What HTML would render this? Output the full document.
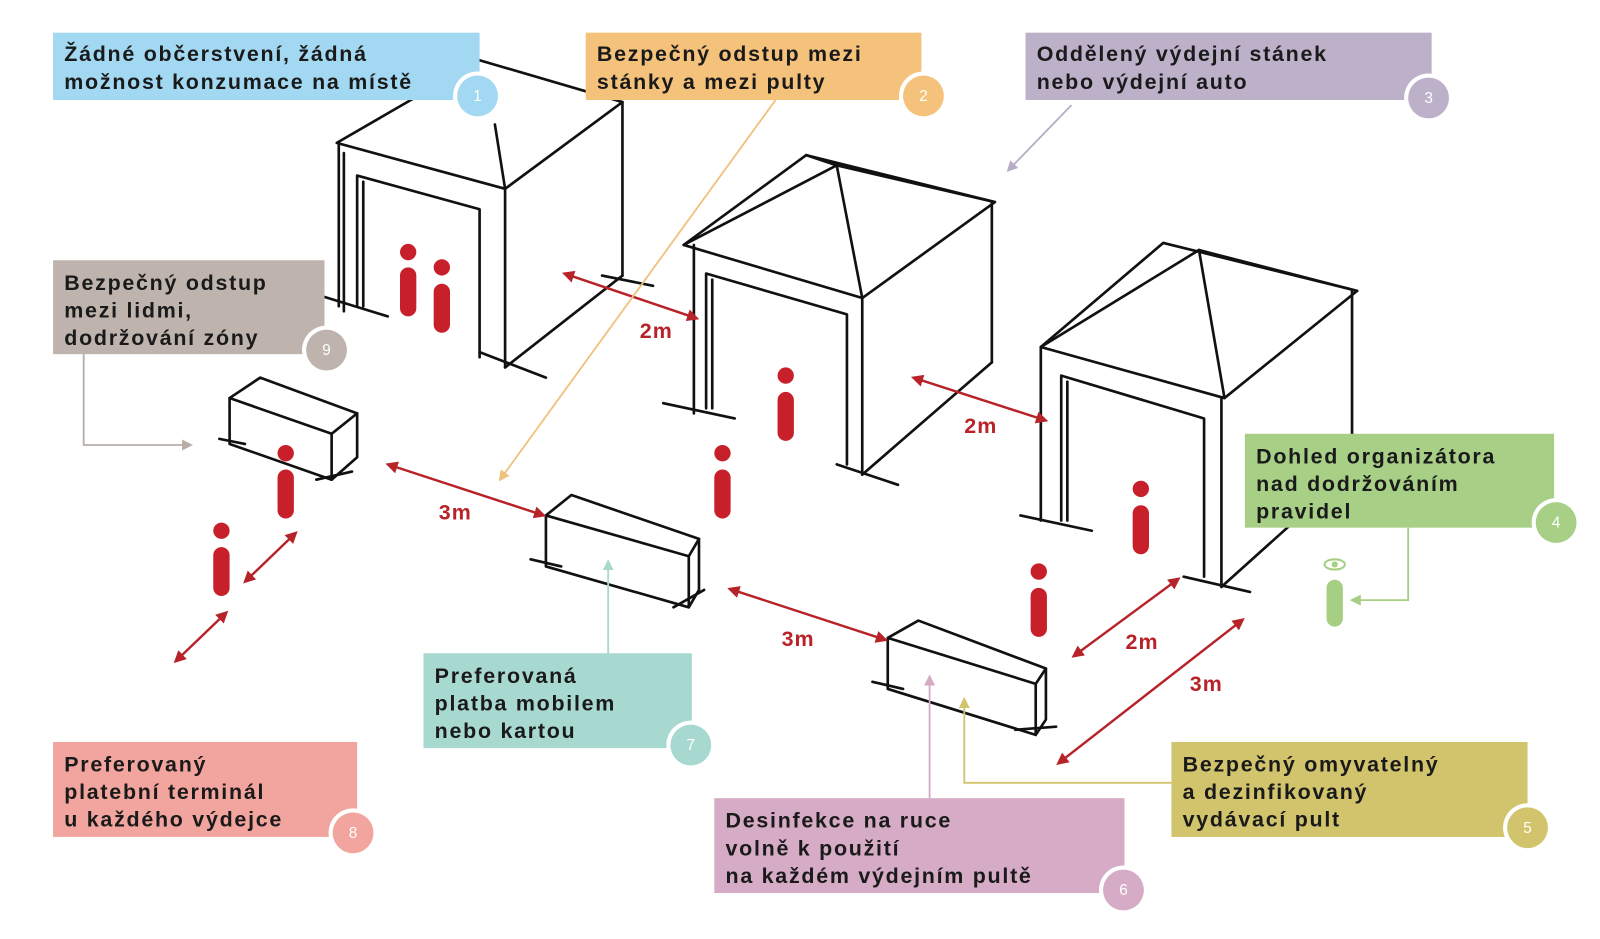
<!DOCTYPE html>
<html><head><meta charset="utf-8"><style>
html,body{margin:0;padding:0;background:#fff;}
svg{display:block}
text{font-family:"Liberation Sans",sans-serif;}
.t{font-size:21px;font-weight:bold;fill:#1a1a1a;letter-spacing:1.7px}
.n{font-size:15px;fill:#fff;text-anchor:middle;}
.sk{stroke:#111;stroke-width:2.6;fill:none;stroke-linecap:round;stroke-linejoin:round}
.ar{stroke:#b8232a;stroke-width:2.4;fill:none}
.lb{font-size:21px;fill:#b8232a;font-weight:bold;letter-spacing:1px}
</style></head><body>
<svg width="1600" height="939" viewBox="0 0 1568 920" preserveAspectRatio="none" xmlns="http://www.w3.org/2000/svg">
<defs>
<marker id="r" viewBox="0 0 10 10" refX="8" refY="5" markerWidth="5" markerHeight="5" orient="auto-start-reverse"><path d="M0,0L10,5L0,10z" fill="#b8232a"/></marker>
<marker id="g" viewBox="0 0 10 10" refX="8" refY="5" markerWidth="6" markerHeight="6" orient="auto"><path d="M0,0L10,5L0,10z" fill="context-stroke"/></marker>
</defs>

<!-- Tent 1 -->
<g class="sk">
<polyline points="470,59 610,100 495,185 330,140 470,59"/>
<line x1="485" y1="122" x2="495" y2="185"/>
<line x1="332" y1="140" x2="332" y2="300"/><line x1="337" y1="150" x2="337" y2="305"/>
<line x1="495" y1="185" x2="495" y2="360"/><line x1="610" y1="100" x2="610" y2="270"/>
<line x1="495" y1="360" x2="610" y2="270"/>
<polyline points="350,300 350,172 470,205 470,350"/><line x1="356" y1="178" x2="356" y2="300"/>
<line x1="315" y1="290" x2="380" y2="310"/><line x1="470" y1="345" x2="535" y2="370"/><line x1="590" y1="270" x2="640" y2="280"/>
</g>
<!-- Tent 2 -->
<g class="sk">
<polyline points="790,152 975,198 845,292 670,240 790,152"/>
<line x1="820" y1="162" x2="790" y2="152"/><line x1="820" y1="162" x2="975" y2="198"/><line x1="820" y1="162" x2="845" y2="292"/><line x1="820" y1="162" x2="670" y2="240"/>
<line x1="680" y1="240" x2="680" y2="405"/><line x1="845" y1="292" x2="845" y2="465"/><line x1="972" y1="198" x2="972" y2="355"/>
<line x1="845" y1="465" x2="972" y2="355"/>
<polyline points="692,400 692,268 830,308 830,455"/><line x1="698" y1="274" x2="698" y2="400"/>
<line x1="650" y1="395" x2="720" y2="410"/><line x1="820" y1="455" x2="880" y2="475"/>
</g>
<!-- Tent 3 -->
<g class="sk">
<polyline points="1140,238 1330,285 1200,390 1020,340 1140,238"/>
<line x1="1175" y1="245" x2="1200" y2="390"/><line x1="1175" y1="245" x2="1020" y2="340"/><line x1="1175" y1="245" x2="1330" y2="285"/>
<line x1="1020" y1="340" x2="1020" y2="510"/><line x1="1197" y1="390" x2="1197" y2="575"/><line x1="1325" y1="285" x2="1325" y2="460"/>
<line x1="1197" y1="575" x2="1325" y2="460"/>
<polyline points="1040,510 1040,368 1180,410 1180,565"/><line x1="1046" y1="374" x2="1046" y2="510"/>
<line x1="1000" y1="505" x2="1070" y2="520"/><line x1="1160" y1="565" x2="1225" y2="580"/>
</g>
<!-- Counters -->
<g class="sk">
<polygon points="225,390 325,425 350,405 255,370"/><polyline points="225,390 225,435 325,470 350,448 350,405"/><line x1="325" y1="425" x2="325" y2="470"/>
<line x1="215" y1="430" x2="240" y2="435"/><line x1="310" y1="470" x2="345" y2="462"/>
<polygon points="535,505 675,545 685,528 560,485"/><polyline points="535,505 535,555 675,595 685,578 685,528"/><line x1="675" y1="545" x2="675" y2="595"/>
<line x1="520" y1="548" x2="550" y2="555"/><line x1="660" y1="595" x2="690" y2="578"/>
<polygon points="870,625 1015,670 1025,655 900,608"/><polyline points="870,625 870,675 1015,720 1025,705 1025,655"/><line x1="1015" y1="670" x2="1015" y2="720"/>
<line x1="855" y1="668" x2="885" y2="675"/><line x1="995" y1="715" x2="1035" y2="712"/>
</g>
<!-- Red people -->
<g fill="#c8202a">
<circle cx="400" cy="247" r="8"/><rect x="392" y="262" width="16" height="48" rx="8"/>
<circle cx="433" cy="262" r="8"/><rect x="425" y="278" width="16" height="48" rx="8"/>
<circle cx="770" cy="368" r="8"/><rect x="762" y="384" width="16" height="48" rx="8"/>
<circle cx="708" cy="444" r="8"/><rect x="700" y="460" width="16" height="48" rx="8"/>
<circle cx="280" cy="444" r="8"/><rect x="272" y="460" width="16" height="48" rx="8"/>
<circle cx="217" cy="520" r="8"/><rect x="209" y="536" width="16" height="48" rx="8"/>
<circle cx="1118" cy="479" r="8"/><rect x="1110" y="495" width="16" height="48" rx="8"/>
<circle cx="1018" cy="560" r="8"/><rect x="1010" y="576" width="16" height="48" rx="8"/>
</g>
<g fill="#a6cf84"><rect x="1300" y="568" width="16" height="46" rx="8"/><ellipse cx="1308" cy="553" rx="10" ry="5" fill="none" stroke="#a6cf84" stroke-width="2"/><circle cx="1308" cy="553" r="3"/></g>
<!-- Red arrows -->
<g class="ar">
<line x1="553" y1="268" x2="683" y2="312" marker-start="url(#r)" marker-end="url(#r)"/>
<line x1="895" y1="370" x2="1025" y2="412" marker-start="url(#r)" marker-end="url(#r)"/>
<line x1="380" y1="455" x2="533" y2="505" marker-start="url(#r)" marker-end="url(#r)"/>
<line x1="715" y1="577" x2="868" y2="627" marker-start="url(#r)" marker-end="url(#r)"/>
<line x1="1052" y1="643" x2="1155" y2="567" marker-start="url(#r)" marker-end="url(#r)"/>
<line x1="1037" y1="748" x2="1218" y2="607" marker-start="url(#r)" marker-end="url(#r)"/>
<line x1="240" y1="570" x2="290" y2="522" marker-start="url(#r)" marker-end="url(#r)"/>
<line x1="172" y1="648" x2="222" y2="600" marker-start="url(#r)" marker-end="url(#r)"/>
</g>
<g class="lb"><text x="627" y="331">2m</text><text x="945" y="424">2m</text><text x="430" y="509">3m</text><text x="766" y="633">3m</text><text x="1103" y="636">2m</text><text x="1166" y="677">3m</text></g>
<!-- connectors -->
<g fill="none" stroke-width="1.8">
<line x1="760" y1="98" x2="490" y2="470" stroke="#f0c27f" marker-end="url(#g)"/>
<line x1="1050" y1="103" x2="988" y2="167" stroke="#b8adc4" marker-end="url(#g)"/>
<polyline points="82,347 82,436 187,436" stroke="#b8aea8" marker-end="url(#g)"/>
<polyline points="596,640 596,550" stroke="#a7d9cf" marker-end="url(#g)"/>
<polyline points="911,782 911,663" stroke="#d4aac4" marker-end="url(#g)"/>
<polyline points="1148,767 945,767 945,685" stroke="#d2c46c" marker-end="url(#g)"/>
<polyline points="1380,517 1380,588 1325,588" stroke="#a6cf84" marker-end="url(#g)"/>
</g>
<!-- Boxes -->
<g>
<rect x="52" y="32" width="418" height="66" fill="#a3d8f2"/>
<text class="t" x="63" y="60">Žádné občerstvení, žádná</text><text class="t" x="63" y="87">možnost konzumace na místě</text>
<circle cx="468" cy="94" r="24" fill="#fff"/><circle cx="468" cy="94" r="20" fill="#a3d8f2"/><text class="n" x="468" y="99">1</text>

<rect x="574" y="32" width="329" height="66" fill="#f5c27c"/>
<text class="t" x="585" y="60">Bezpečný odstup mezi</text><text class="t" x="585" y="87">stánky a mezi pulty</text>
<circle cx="905" cy="94" r="24" fill="#fff"/><circle cx="905" cy="94" r="20" fill="#f5c27c"/><text class="n" x="905" y="99">2</text>

<rect x="1005" y="32" width="398" height="66" fill="#bdb0c9"/>
<text class="t" x="1016" y="60">Oddělený výdejní stánek</text><text class="t" x="1016" y="87">nebo výdejní auto</text>
<circle cx="1400" cy="96" r="24" fill="#fff"/><circle cx="1400" cy="96" r="20" fill="#bdb0c9"/><text class="n" x="1400" y="101">3</text>

<rect x="52" y="255" width="266" height="92" fill="#bfb3ad"/>
<text class="t" x="63" y="284">Bezpečný odstup</text><text class="t" x="63" y="311">mezi lidmi,</text><text class="t" x="63" y="338">dodržování zóny</text>
<circle cx="320" cy="343" r="24" fill="#fff"/><circle cx="320" cy="343" r="20" fill="#bfb3ad"/><text class="n" x="320" y="348">9</text>

<rect x="1220" y="425" width="303" height="92" fill="#a7cf86"/>
<text class="t" x="1231" y="454">Dohled organizátora</text><text class="t" x="1231" y="481">nad dodržováním</text><text class="t" x="1231" y="508">pravidel</text>
<circle cx="1525" cy="512" r="24" fill="#fff"/><circle cx="1525" cy="512" r="20" fill="#a7cf86"/><text class="n" x="1525" y="517">4</text>

<rect x="415" y="640" width="263" height="93" fill="#a8d9d0"/>
<text class="t" x="426" y="669">Preferovaná</text><text class="t" x="426" y="696">platba mobilem</text><text class="t" x="426" y="723">nebo kartou</text>
<circle cx="677" cy="730" r="24" fill="#fff"/><circle cx="677" cy="730" r="20" fill="#a8d9d0"/><text class="n" x="677" y="735">7</text>

<rect x="52" y="727" width="298" height="93" fill="#f2a59e"/>
<text class="t" x="63" y="756">Preferovaný</text><text class="t" x="63" y="783">platební terminál</text><text class="t" x="63" y="810">u každého výdejce</text>
<circle cx="346" cy="816" r="24" fill="#fff"/><circle cx="346" cy="816" r="20" fill="#f2a59e"/><text class="n" x="346" y="821">8</text>

<rect x="700" y="782" width="402" height="93" fill="#d5abc5"/>
<text class="t" x="711" y="811">Desinfekce na ruce</text><text class="t" x="711" y="838">volně k použití</text><text class="t" x="711" y="865">na každém výdejním pultě</text>
<circle cx="1101" cy="872" r="24" fill="#fff"/><circle cx="1101" cy="872" r="20" fill="#d5abc5"/><text class="n" x="1101" y="877">6</text>

<rect x="1148" y="727" width="349" height="93" fill="#d2c46c"/>
<text class="t" x="1159" y="756">Bezpečný omyvatelný</text><text class="t" x="1159" y="783">a dezinfikovaný</text><text class="t" x="1159" y="810">vydávací pult</text>
<circle cx="1497" cy="811" r="24" fill="#fff"/><circle cx="1497" cy="811" r="20" fill="#d2c46c"/><text class="n" x="1497" y="816">5</text>
</g>
</svg>
</body></html>
